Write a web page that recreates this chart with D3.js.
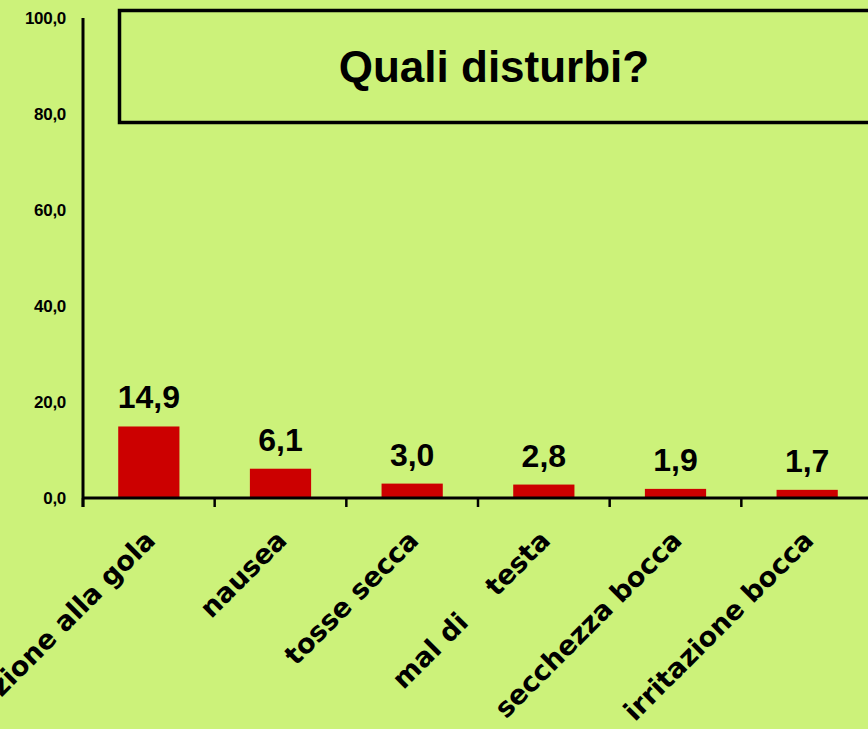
<!DOCTYPE html>
<html>
<head>
<meta charset="utf-8">
<script src="https://cdnjs.cloudflare.com/ajax/libs/d3/7.8.5/d3.min.js"></script>
<style>
  html, body { margin: 0; padding: 0; background: #ccf27a; overflow: hidden; }
  svg { display: block; }
</style>
</head>
<body>
<div id="chart"></div>
<script>
    // Chart data
    var categories = ["irritazione alla gola", "nausea", "tosse secca", "mal di    testa", "secchezza bocca", "irritazione bocca"];
    var values = [14.9, 6.1, 3.0, 2.8, 1.9, 1.7];
    var yTicks = [0, 20, 40, 60, 80, 100];
    var titleText = "Quali disturbi?";

    // Setting chart parameters
    var properties = {
        width: 868,
        height: 729,
        margin: { top: 18, left: 83 },
        plotWidth: 790,
        plotHeight: 480
    };

    var svg = d3.select("#chart")
        .append("svg")
        .attr("width", properties.width)
        .attr("height", properties.height);

    var chartContent = svg.append("g")
        .attr("transform", "translate(" + properties.margin.left + "," + properties.margin.top + ")");

    // Scales
    var xScale = d3.scaleBand()
        .domain(categories)
        .range([0, properties.plotWidth])
        .padding(0);

    var yScale = d3.scaleLinear()
        .domain([0, 100])
        .range([properties.plotHeight, 0]);

    var barWidth = xScale.bandwidth() * 0.465;
    var fmt = function (v) { return d3.format(".1f")(v).replace(".", ","); };

    // Title box
    svg.append("rect")
        .attr("x", 119.5)
        .attr("y", 10.5)
        .attr("width", 800)
        .attr("height", 112)
        .attr("fill", "none")
        .attr("stroke", "#000")
        .attr("stroke-width", 3.5);

    svg.append("text")
        .attr("x", 494)
        .attr("y", 82)
        .attr("text-anchor", "middle")
        .attr("font-family", "Liberation Sans, Arial, sans-serif")
        .attr("font-weight", "bold")
        .attr("font-size", 44)
        .attr("fill", "#000")
        .text(titleText);

    // Bars
    chartContent.selectAll(".bar")
        .data(values)
        .enter()
        .append("rect")
        .attr("class", "bar")
        .attr("x", function (d, i) { return xScale(categories[i]) + (xScale.bandwidth() - barWidth) / 2; })
        .attr("width", barWidth)
        .attr("y", function (d) { return yScale(d); })
        .attr("height", function (d) { return yScale(0) - yScale(d); })
        .attr("fill", "#cc0000");

    // Value labels
    chartContent.selectAll(".value-label")
        .data(values)
        .enter()
        .append("text")
        .attr("class", "value-label")
        .attr("x", function (d, i) { return xScale(categories[i]) + xScale.bandwidth() / 2; })
        .attr("y", function (d) { return yScale(d) - 18; })
        .attr("text-anchor", "middle")
        .attr("font-family", "Liberation Sans, Arial, sans-serif")
        .attr("font-weight", "bold")
        .attr("font-size", 32)
        .attr("fill", "#000")
        .text(fmt);

    // Y axis
    var yAxis = chartContent.append("g")
        .attr("class", "y axis")
        .call(d3.axisLeft(yScale).tickValues(yTicks).tickSize(0).tickPadding(17).tickFormat(fmt));
    yAxis.select(".domain").remove();
    yAxis.selectAll("text")
        .attr("font-family", "Liberation Sans, Arial, sans-serif")
        .attr("font-weight", "bold")
        .attr("font-size", 17)
        .attr("fill", "#000")
        .attr("letter-spacing", "-0.3px");

    chartContent.append("line")
        .attr("x1", 0).attr("x2", 0)
        .attr("y1", 0).attr("y2", properties.plotHeight + 9)
        .attr("stroke", "#000")
        .attr("stroke-width", 3);

    // X axis
    var xAxis = chartContent.append("g")
        .attr("class", "x axis")
        .attr("transform", "translate(0," + properties.plotHeight + ")");

    xAxis.append("line")
        .attr("x1", 0).attr("x2", properties.plotWidth)
        .attr("stroke", "#000")
        .attr("stroke-width", 3);

    xAxis.selectAll(".x-tick")
        .data(categories)
        .enter()
        .append("line")
        .attr("class", "x-tick")
        .attr("x1", function (d) { return xScale(d); })
        .attr("x2", function (d) { return xScale(d); })
        .attr("y1", 0).attr("y2", 9)
        .attr("stroke", "#000")
        .attr("stroke-width", 2.5);

    // Rotated category labels
    xAxis.selectAll(".x-label")
        .data(categories)
        .enter()
        .append("text")
        .attr("class", "x-label")
        .attr("transform", function (d) {
            return "translate(" + (xScale(d) + xScale.bandwidth() / 2 + 8) + ",44) rotate(-45)";
        })
        .attr("text-anchor", "end")
        .attr("font-family", "DejaVu Sans, sans-serif")
        .attr("font-weight", "bold")
        .attr("font-size", 27)
        .attr("fill", "#000")
        .style("white-space", "pre")
        .text(function (d) { return d; });
</script>
</body>
</html>
